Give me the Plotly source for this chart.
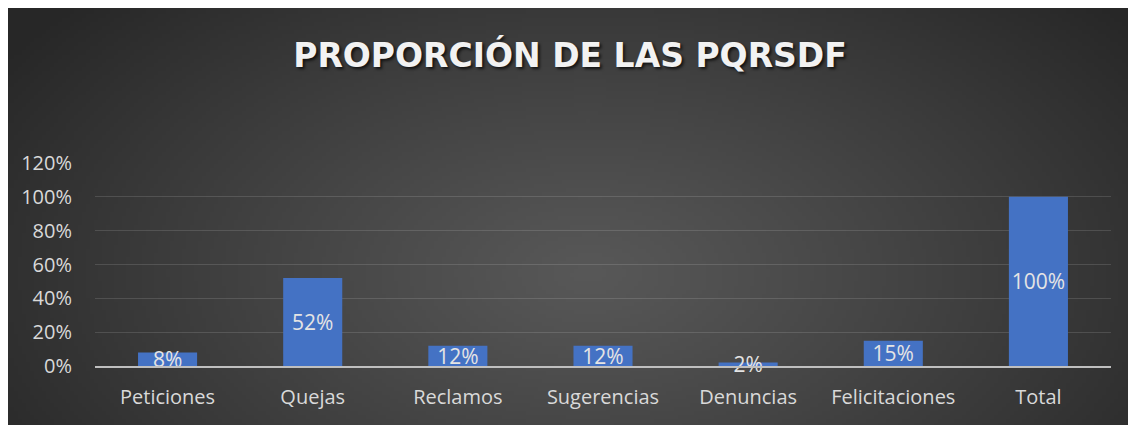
import base64
import struct
import zlib

import numpy as np
import plotly.graph_objects as go

# ---- data ----
categories = ["Peticiones", "Quejas", "Reclamos", "Sugerencias", "Denuncias", "Felicitaciones", "Total"]
proportions = [0.08, 0.52, 0.12, 0.12, 0.02, 0.15, 1.00]
y_tick_values = [0, 0.2, 0.4, 0.6, 0.8, 1.0, 1.2]
y_tick_labels = ["0%", "20%", "40%", "60%", "80%", "100%", "120%"]
title_text = "PROPORCIÓN DE LAS PQRSDF"

FIG_W, FIG_H = 1136, 425
OFF = 8  # page body margin offset to compensate

# ---- radial-gradient background image (style only) ----
W, H = 284, 105
yy, xx = np.mgrid[0:H, 0:W]
cx, cy = 0.51 * W, 0.62 * H
t = np.sqrt(((xx - cx) / (0.62 * W)) ** 2 + ((yy - cy) / (0.95 * H)) ** 2)
t = np.clip(t, 0, 1) ** 1.1
v = (0x58 * (1 - t) + 0x27 * t).astype(np.uint8)
raw = b"".join(b"\x00" + v[r].tobytes() for r in range(H))


def _chunk(tag, data):
    return struct.pack(">I", len(data)) + tag + data + struct.pack(">I", zlib.crc32(tag + data) & 0xFFFFFFFF)


png = (b"\x89PNG\r\n\x1a\n"
       + _chunk(b"IHDR", struct.pack(">IIBBBBB", W, H, 8, 0, 0, 0, 0))
       + _chunk(b"IDAT", zlib.compress(raw))
       + _chunk(b"IEND", b""))
bg_src = "data:image/png;base64," + base64.b64encode(png).decode()

text_color = "#d9d9d9"
font_family = "Open Sans"


def px_x(X):
    return (X - OFF) / FIG_W


def px_y(Y):
    return 1 - (Y - OFF) / FIG_H


fig = go.Figure(
    go.Bar(
        x=categories,
        y=proportions,
        marker=dict(color="#4472C4", line=dict(width=0)),
        texttemplate="%{y:.0%}",
        textposition="inside",
        insidetextanchor="middle",
        textangle=0,
        constraintext="none",
        textfont=dict(color="#e4e4e4", size=21, family=font_family),
        cliponaxis=False,
        hoverinfo="skip",
    )
)

fig.update_layout(
    template="none",
    width=FIG_W,
    height=FIG_H,
    margin=dict(l=0, r=0, t=0, b=0),
    paper_bgcolor="white",
    plot_bgcolor="rgba(0,0,0,0)",
    bargap=0.593,
    showlegend=False,
    images=[dict(
        source=bg_src,
        xref="paper", yref="paper",
        x=0, y=1,
        sizex=1, sizey=1,
        xanchor="left", yanchor="top",
        sizing="stretch",
        layer="below",
    )],
    title=dict(
        text=title_text,
        x=px_x(570), xanchor="center",
        y=px_y(55), yanchor="middle",
        font=dict(family="DejaVu Sans", size=33, color="#f2f2f2", weight="bold",
                  shadow="2px 2px 3px rgba(0,0,0,0.7)"),
    ),
    xaxis=dict(
        domain=[px_x(95), px_x(1111)],
        automargin=False,
        showgrid=False,
        showline=True,
        linecolor="#bfbfbf",
        linewidth=2,
        ticks="",
        ticklabelstandoff=12,
        tickfont=dict(family=font_family, size=20, color=text_color),
        zeroline=False,
    ),
    yaxis=dict(
        domain=[px_y(366), px_y(163)],
        range=[0, 1.2],
        automargin=False,
        tickvals=y_tick_values,
        ticktext=y_tick_labels,
        showgrid=True,
        gridcolor="rgba(255,255,255,0.13)",
        gridwidth=1,
        zeroline=False,
        showline=False,
        ticks="",
        ticklabelstandoff=22,
        tickfont=dict(family=font_family, size=20, color=text_color),
    ),
)

fig.write_html("out.html")
